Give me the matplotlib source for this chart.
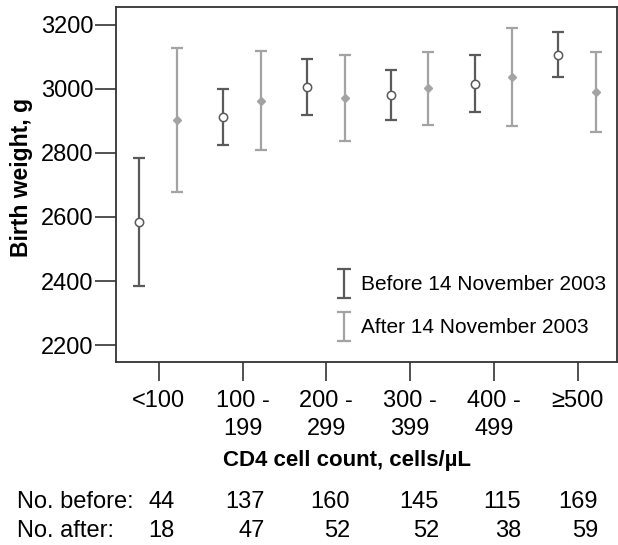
import matplotlib
matplotlib.use('Agg')
import matplotlib.pyplot as plt
from matplotlib.legend_handler import HandlerErrorbar
from matplotlib.container import ErrorbarContainer
from matplotlib.lines import Line2D
import numpy as np

plt.rcParams['font.family'] = ['Liberation Sans', 'DejaVu Sans']

# CD4 groups
groups = ['<100', '100 -\n199', '200 -\n299', '300 -\n399', '400 -\n499', '\u2265500']

# Before 14 November 2003: mean, lower, upper (g)
before_mean = [2584, 2912, 3005, 2980, 3017, 3107]
before_low = [2385, 2826, 2919, 2902, 2928, 3037]
before_high = [2784, 2999, 3092, 3060, 3106, 3178]

# After 14 November 2003
after_mean = [2903, 2963, 2972, 3003, 3037, 2992]
after_low = [2677, 2809, 2838, 2888, 2885, 2867]
after_high = [3128, 3117, 3105, 3116, 3189, 3116]

n_before = [44, 137, 160, 145, 115, 169]
n_after = [18, 47, 52, 52, 38, 59]

dark = '#5a5a5a'
light = '#a3a3a3'

fig = plt.figure(figsize=(6.18, 5.45), dpi=100)
ax = fig.add_axes([116/618, 1-362/545, 501/618, 355/545])

x = np.arange(1, len(groups)+1)
xb = x - 0.23
xa = x + 0.22

bm = np.array(before_mean)
am = np.array(after_mean)
eb = ax.errorbar(xb, bm, yerr=[bm - np.array(before_low), np.array(before_high) - bm],
                 fmt='none', ecolor=dark, elinewidth=1.6, capsize=4, capthick=1.6,
                 label='Before 14 November 2003')
ea = ax.errorbar(xa, am, yerr=[am - np.array(after_low), np.array(after_high) - am],
                 fmt='none', ecolor=light, elinewidth=1.6, capsize=4, capthick=1.6,
                 label='After 14 November 2003')
ax.plot(xb, bm, 'o', ms=6, mfc='white', mec=dark, mew=1.1, zorder=3)
ax.plot(xa, am, 'D', ms=4, mfc=light, mec=light, zorder=3)

ax.set_xlim(0.49, 6.47)
ax.set_ylim(2147, 3256)
ax.set_xticks(x)
ax.set_xticklabels(groups, fontsize=17, linespacing=1.38)
ax.set_yticks(range(2200, 3201, 200))
ax.tick_params(axis='y', labelsize=17, length=15, width=1.2, pad=1.5, color='#333333')
ax.tick_params(axis='x', length=14, width=1.2, pad=6, color='#333333')
for s in ax.spines.values():
    s.set_linewidth(1.3)
    s.set_color('#333333')

ax.set_ylabel('Birth weight, g', fontsize=16.5, fontweight='bold')
ax.yaxis.set_label_coords(-0.166, 0.521)
ax.set_xlabel('CD4 cell count, cells/\u00b5L', fontsize=16, fontweight='bold')
ax.xaxis.label.set_va('baseline')
ax.xaxis.set_label_coords(0.462, -0.293)


def wide_caps(legend_handle, orig_handle):
    legend_handle.update_from(orig_handle)
    if isinstance(legend_handle, Line2D) and legend_handle.get_marker() in ('_', '|'):
        legend_handle.set_markersize(10)


ax.legend(handles=[eb, ea], loc='lower right', frameon=False, fontsize=15,
          handler_map={ErrorbarContainer: HandlerErrorbar(yerr_size=0.7, update_func=wide_caps)},
          handlelength=0.6, handletextpad=0.55, labelspacing=1.15,
          borderaxespad=0.1, bbox_to_anchor=(1.0, 0.04))

# counts below the axis
count_right_px = [175, 265, 350, 439, 521, 598]
fig.text(17/618, 1-508/545, 'No. before:', fontsize=17, va='baseline')
fig.text(17/618, 1-537/545, 'No. after:', fontsize=17, va='baseline')
for px, nb, na in zip(count_right_px, n_before, n_after):
    fig.text(px/618, 1-508/545, str(nb), fontsize=17, va='baseline', ha='right')
    fig.text(px/618, 1-537/545, str(na), fontsize=17, va='baseline', ha='right')

fig.savefig('out.png', dpi=100)
